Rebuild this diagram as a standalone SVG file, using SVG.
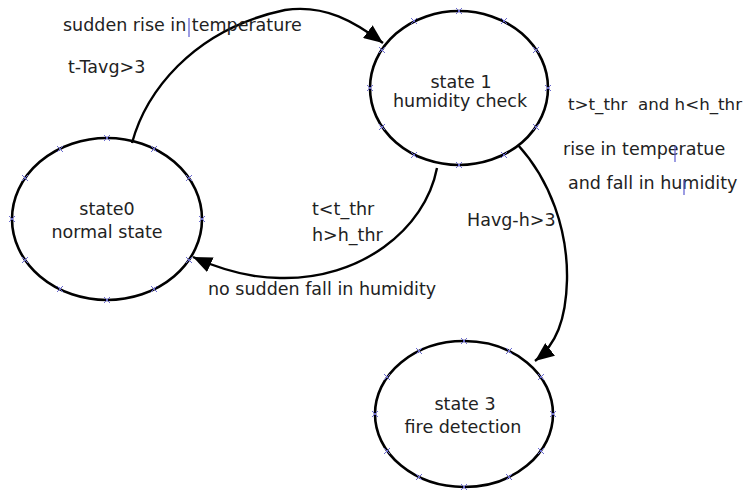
<svg xmlns="http://www.w3.org/2000/svg" width="749" height="492" viewBox="0 0 749 492">
<style>
.st{fill:none;stroke:#000;stroke-width:2.6}
.cn{fill:none;stroke:#000;stroke-width:2.4}
.t{font-family:"DejaVu Sans",Verdana,sans-serif;font-size:17.5px;fill:#222;white-space:pre}
.c{text-anchor:middle}
.x{stroke:#6a6ad0;stroke-width:1}
.cur{stroke:#5a5ad0;stroke-width:1.2}
</style>
<defs>
<marker id="ah" markerUnits="userSpaceOnUse" markerWidth="20" markerHeight="16" refX="19" refY="8" orient="auto">
<path d="M0,0 L19,8 L0,16 z" fill="#000"/>
</marker>
<g id="xm"><path class="x" d="M-3,-3 L3,3 M-3,3 L3,-3"/></g>
</defs>
<rect width="749" height="492" fill="#fff"/>
<g id="state0">
<ellipse class="st" cx="107" cy="219" rx="95" ry="81"/>
<use href="#xm" x="107" y="138"/><use href="#xm" x="154" y="149"/><use href="#xm" x="189" y="178"/><use href="#xm" x="202" y="219"/><use href="#xm" x="189" y="260"/><use href="#xm" x="154" y="289"/><use href="#xm" x="107" y="300"/><use href="#xm" x="60" y="289"/><use href="#xm" x="25" y="260"/><use href="#xm" x="12" y="219"/><use href="#xm" x="25" y="178"/><use href="#xm" x="60" y="149"/>
<text class="t c" x="107" y="215">state0</text>
<text class="t c" x="107" y="238">normal state</text>
</g>
<g id="state1">
<ellipse class="st" cx="459" cy="88" rx="89" ry="77"/>
<use href="#xm" x="459" y="11"/><use href="#xm" x="504" y="21"/><use href="#xm" x="536" y="50"/><use href="#xm" x="548" y="88"/><use href="#xm" x="536" y="127"/><use href="#xm" x="504" y="155"/><use href="#xm" x="459" y="165"/><use href="#xm" x="414" y="155"/><use href="#xm" x="382" y="127"/><use href="#xm" x="370" y="88"/><use href="#xm" x="382" y="50"/><use href="#xm" x="414" y="21"/>
<text class="t c" x="461" y="88">state 1</text>
<text class="t c" x="460" y="107">humidity check</text>
</g>
<g id="state3">
<ellipse class="st" cx="464" cy="414" rx="89" ry="73"/>
<use href="#xm" x="464" y="341"/><use href="#xm" x="509" y="351"/><use href="#xm" x="541" y="377"/><use href="#xm" x="553" y="414"/><use href="#xm" x="541" y="451"/><use href="#xm" x="509" y="477"/><use href="#xm" x="464" y="487"/><use href="#xm" x="419" y="477"/><use href="#xm" x="387" y="451"/><use href="#xm" x="375" y="414"/><use href="#xm" x="387" y="377"/><use href="#xm" x="419" y="351"/>
<text class="t c" x="465" y="410">state 3</text>
<text class="t c" x="463" y="433">fire detection</text>
</g>
<g id="connectors">
<path class="cn" d="M132,143 C145,95 190,30 285,10 C325,4 355,22 383,43" marker-end="url(#ah)"/>
<path class="cn" d="M437,168 C425,230 360,280 280,278 C250,278 222,270 193,257" marker-end="url(#ah)"/>
<path class="cn" d="M518,145 C550,180 568,230 567,280 C566,320 556,345 535,361" marker-end="url(#ah)"/>
</g>
<g id="labels">
<text class="t" x="63" y="31">sudden rise in temperature</text>
<line class="cur" x1="189" y1="18" x2="189" y2="37"/>
<text class="t" x="68" y="73">t-Tavg&gt;3</text>
<text class="t" x="568" y="110" style="font-size:16px" textLength="174" lengthAdjust="spacingAndGlyphs">t&gt;t_thr  and h&lt;h_thr</text>
<text class="t" x="563" y="155">rise in temperatue</text>
<line class="cur" x1="675" y1="146" x2="675" y2="162"/>
<text class="t" x="568" y="189">and fall in humidity</text>
<line class="cur" x1="684" y1="180" x2="684" y2="195"/>
<text class="t" x="312" y="215">t&lt;t_thr</text>
<text class="t" x="312" y="241">h&gt;h_thr</text>
<text class="t" x="208" y="295">no sudden fall in humidity</text>
<text class="t" x="467" y="226">Havg-h&gt;3</text>
</g>
</svg>
